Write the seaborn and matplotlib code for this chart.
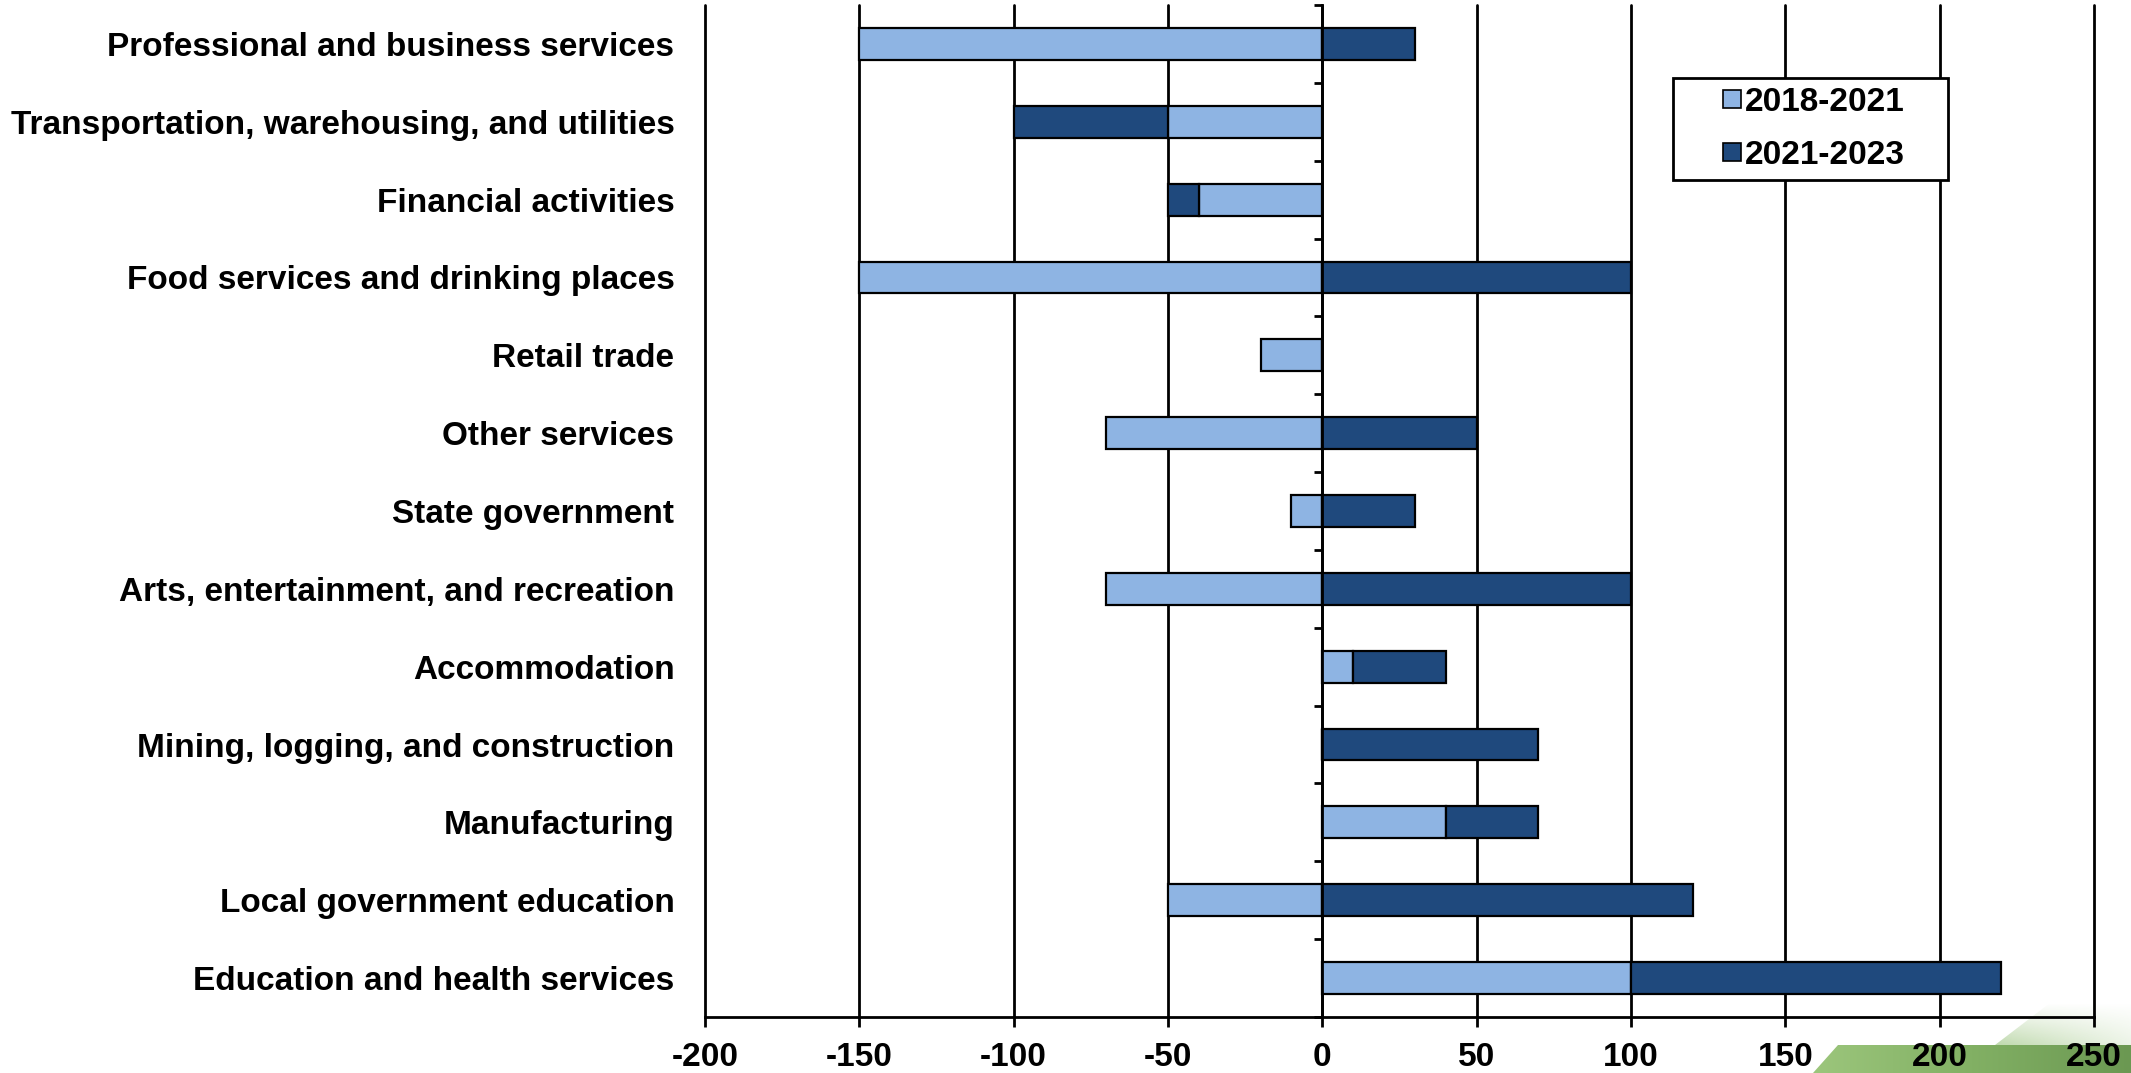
import numpy as np
import pandas as pd
import matplotlib
matplotlib.use('Agg')
import matplotlib.pyplot as plt
from matplotlib.lines import Line2D
from matplotlib.patches import Polygon
from matplotlib.colors import LinearSegmentedColormap, to_rgb
import seaborn as sns

# Variation de l'emploi par secteur (milliers), deux periodes empilees
secteurs = [
    'Professional and business services',
    'Transportation, warehousing, and utilities',
    'Financial activities',
    'Food services and drinking places',
    'Retail trade',
    'Other services',
    'State government',
    'Arts, entertainment, and recreation',
    'Accommodation',
    'Mining, logging, and construction',
    'Manufacturing',
    'Local government education',
    'Education and health services',
]
var_2018_2021 = [-150, -50, -40, -150, -20, -70, -10, -70, 10, 0, 40, -50, 100]
var_2021_2023 = [30, -50, -10, 100, 0, 50, 30, 100, 30, 70, 30, 120, 120]
periodes = ['2018-2021', '2021-2023']
ticks_x = list(range(-200, 251, 50))

COULEUR_CLAIR = '#8EB4E3'
COULEUR_FONCE = '#1F497D'

W, H = 2131, 1073

sns.set_style('white')
plt.rcParams['font.family'] = ['Liberation Sans', 'DejaVu Sans']
plt.rcParams['font.weight'] = 'bold'
plt.rcParams['text.color'] = 'black'

df = pd.DataFrame({'secteur': secteurs, 'p1': var_2018_2021, 'p2': var_2021_2023})
# base de la 2e serie : meme signe -> empile sur la 1re, sinon part de 0
df['base2'] = np.where(np.sign(df['p1']) == np.sign(df['p2']), df['p1'], 0)

fig = plt.figure(figsize=(W / 100, H / 100), dpi=100)
fig.patch.set_facecolor('white')

# --- decor vert en bas a droite ---
ax_deco = fig.add_axes([0, 0, 1, 1], zorder=0)
ax_deco.axis('off')
grad = np.linspace(0, 1, 256).reshape(1, -1)
cmap_band = LinearSegmentedColormap.from_list('band', ['#9cc67c', '#82b064', '#6b9852'])
im = ax_deco.imshow(grad, extent=[1813, W, H, 1045], cmap=cmap_band, aspect='auto')
band = Polygon([(1838, 1045), (W, 1045), (W, H), (1813, H)], closed=True,
               facecolor='none', edgecolor='none')
ax_deco.add_patch(band)
im.set_clip_path(band)

yy, xx = np.mgrid[0:1:64j, 0:1:128j]
rgba = np.zeros((64, 128, 4))
rgba[..., :3] = to_rgb('#8cbb6c')
rgba[..., 3] = 0.55 * yy * (1 - 0.7 * xx)
im2 = ax_deco.imshow(rgba, extent=[1995, W, 1045, 1003], aspect='auto')
tri = Polygon([(1995, 1045), (2050, 1003), (W, 1003), (W, 1045)], closed=True,
              facecolor='none', edgecolor='none')
ax_deco.add_patch(tri)
im2.set_clip_path(tri)
ax_deco.set_xlim(0, W)
ax_deco.set_ylim(H, 0)

# --- graphique principal ---
ax = fig.add_axes([705 / W, 1 - 1017 / H, (2094 - 705) / W, (1017 - 5) / H], zorder=1)
ax.patch.set_alpha(0)

sns.barplot(data=df, x='p1', y='secteur', orient='h', color=COULEUR_CLAIR,
            saturation=1, width=0.41, edgecolor='black', linewidth=1.6,
            errorbar=None, ax=ax, zorder=2)
pos = np.arange(len(secteurs))
ax.barh(pos, df['p2'], left=df['base2'], height=0.41, color=COULEUR_FONCE,
        edgecolor='black', linewidth=1.6, zorder=2)

ax.set_xlim(ticks_x[0], ticks_x[-1])
ax.set_ylim(len(secteurs) - 0.5, -0.5)
ax.set_xticks(ticks_x)
ax.set_xticklabels([str(t) for t in ticks_x])
ax.set_xlabel('')
ax.set_ylabel('')
ax.grid(axis='x', color='black', linewidth=2)
ax.grid(axis='y', visible=False)
ax.set_axisbelow(True)
for gl in ax.get_xgridlines():
    gl.set_clip_on(False)

for s in ['top', 'right', 'left']:
    ax.spines[s].set_visible(False)
ax.spines['bottom'].set_linewidth(2)
ax.spines['bottom'].set_color('black')

ax.tick_params(axis='x', direction='out', length=7, width=2, color='black',
               labelsize=24, labelcolor='black', pad=11, bottom=True)
ax.tick_params(axis='y', length=0, labelsize=24, labelcolor='black', pad=22)
for lab in ax.get_xticklabels() + ax.get_yticklabels():
    lab.set_fontweight('bold')

# axe vertical en 0 avec graduations entre categories
x0, x1 = ax.get_xlim()
sec = ax.secondary_yaxis((0 - x0) / (x1 - x0))
sec.set_yticks(np.arange(len(secteurs) + 1) - 0.5)
sec.set_yticklabels([])
sec.tick_params(direction='out', length=6, width=2, color='black')
sec.spines['left'].set_linewidth(2)
sec.spines['left'].set_color('black')
sec.set_zorder(5)

handles = [Line2D([], [], marker='s', linestyle='none', markersize=13,
                  markerfacecolor=c, markeredgecolor='black', markeredgewidth=1.2)
           for c in (COULEUR_CLAIR, COULEUR_FONCE)]
leg = ax.legend(handles, periodes, loc='upper left',
                bbox_to_anchor=(1673 / W, 1 - 78 / H - 0.001, (1948 - 1673) / W, 0.001),
                bbox_transform=fig.transFigure, mode='expand', borderaxespad=0,
                prop={'size': 24, 'weight': 'bold'}, handlelength=3.0,
                handletextpad=-1.12, borderpad=0.27, labelspacing=0.65,
                fancybox=False, framealpha=1, edgecolor='black')
leg.get_frame().set_linewidth(2)
for t in leg.get_texts():
    t.set_color('black')

fig.savefig('out.png', dpi=100, facecolor='white')
